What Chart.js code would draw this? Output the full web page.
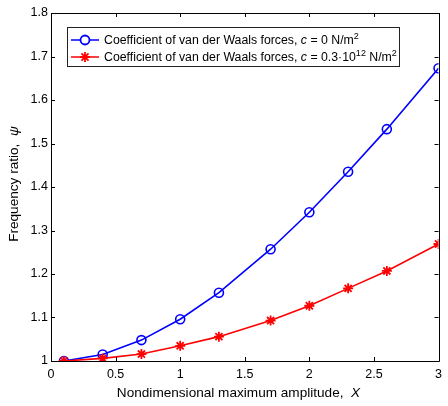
<!DOCTYPE html>
<html>
<head>
<meta charset="utf-8">
<script src="https://cdn.jsdelivr.net/npm/chart.js@4/dist/chart.umd.min.js"></script>
<style>
  html, body { margin: 0; padding: 0; background: #fff; }
  #wrap { width: 448px; height: 406px; position: relative; }
</style>
</head>
<body>
<div id="wrap"><canvas id="c" width="448" height="406"></canvas></div>
<script>
// Nondimensional maximum amplitude X
const amplitude = [0.1, 0.4, 0.7, 1.0, 1.3, 1.7, 2.0, 2.3, 2.6, 3.0];
// Frequency ratio for c = 0 N/m^2
const ratioNoVdW = [1.000, 1.015, 1.048, 1.096, 1.157, 1.257, 1.342, 1.435, 1.533, 1.673];
// Frequency ratio for c = 0.3e12 N/m^2
const ratioVdW = [1.000, 1.006, 1.016, 1.035, 1.056, 1.093, 1.127, 1.167, 1.207, 1.269];
const xTickValues = [0, 0.5, 1, 1.5, 2, 2.5, 3];
const yTickValues = [1, 1.1, 1.2, 1.3, 1.4, 1.5, 1.6, 1.7, 1.8];

const FONT = '"Liberation Sans", Arial, sans-serif';
const BLUE = '#0000ff';
const RED = '#ff0000';

function fmt(v) { return String(Number(v.toFixed(2))); }

// draws a run of text pieces: {t, italic, sup}
function drawRuns(ctx, runs, x, y, size) {
  let cx = x;
  runs.forEach(r => {
    const s = r.sup ? Math.round(size * 0.72) : size;
    ctx.font = (r.italic ? 'italic ' : '') + s + 'px ' + FONT;
    ctx.fillText(r.t, cx, r.sup ? y - size * 0.38 : y);
    cx += ctx.measureText(r.t).width;
  });
  return cx - x;
}
function runsWidth(ctx, runs, size) {
  let w = 0;
  runs.forEach(r => {
    const s = r.sup ? Math.round(size * 0.72) : size;
    ctx.font = (r.italic ? 'italic ' : '') + s + 'px ' + FONT;
    w += ctx.measureText(r.t).width;
  });
  return w;
}

const frame = {
  id: 'frame',
  afterDraw(chart) {
    const ctx = chart.ctx;
    const a = chart.chartArea;
    const xs = chart.scales.x, ys = chart.scales.y;
    ctx.save();
    ctx.strokeStyle = '#000';
    ctx.lineWidth = 1;
    ctx.beginPath();
    ctx.rect(Math.round(a.left) + 0.5, Math.round(a.top) + 0.5,
             Math.round(a.right - a.left), Math.round(a.bottom - a.top));
    ctx.stroke();
    const tl = 4;
    ctx.beginPath();
    xTickValues.forEach(v => {
      const px = Math.round(xs.getPixelForValue(v)) + 0.5;
      ctx.moveTo(px, a.bottom); ctx.lineTo(px, a.bottom - tl);
      ctx.moveTo(px, a.top); ctx.lineTo(px, a.top + tl);
    });
    yTickValues.forEach(v => {
      const py = Math.round(ys.getPixelForValue(v)) + 0.5;
      ctx.moveTo(a.left, py); ctx.lineTo(a.left + tl, py);
      ctx.moveTo(a.right, py); ctx.lineTo(a.right - tl, py);
    });
    ctx.stroke();

    // axis titles
    ctx.fillStyle = '#000';
    ctx.textBaseline = 'middle';
    const xt = [{t: 'Nondimensional maximum amplitude,  '}, {t: 'X', italic: true}];
    const xw = runsWidth(ctx, xt, 13.6);
    drawRuns(ctx, xt, 238.5 - xw / 2, 393, 13.6);

    const yt = [{t: 'Frequency ratio,  '}, {t: 'ψ', italic: true}];
    ctx.save();
    ctx.translate(14, 184);
    ctx.rotate(-Math.PI / 2);
    const yw = runsWidth(ctx, yt, 13.6);
    drawRuns(ctx, yt, -yw / 2, 0, 13.6);
    ctx.restore();

    // legend
    const bx = 67, by = 27, bw = 332, bh = 39;
    ctx.fillStyle = '#fff';
    ctx.fillRect(bx, by, bw, bh);
    ctx.strokeStyle = '#222';
    ctx.lineWidth = 1;
    ctx.strokeRect(bx + 0.5, by + 0.5, bw, bh);
    const rows = [
      {color: BLUE, style: 'circle', r: 4.5, y: 40,
       runs: [{t: 'Coefficient of van der Waals forces, '}, {t: 'c', italic: true},
              {t: ' = 0 N/m'}, {t: '2', sup: true}]},
      {color: RED, style: 'star', r: 5, y: 57,
       runs: [{t: 'Coefficient of van der Waals forces, '}, {t: 'c', italic: true},
              {t: ' = 0.3·10'}, {t: '12', sup: true}, {t: ' N/m'}, {t: '2', sup: true}]}
    ];
    rows.forEach(r => {
      ctx.strokeStyle = r.color;
      ctx.lineWidth = 1.5;
      ctx.beginPath();
      ctx.moveTo(71, r.y); ctx.lineTo(99, r.y);
      ctx.stroke();
      ctx.lineWidth = 1.8;
      Chart.helpers.drawPoint(ctx, {pointStyle: r.style, radius: r.r, borderWidth: 1.8}, 85, r.y);
      ctx.fillStyle = '#000';
      ctx.textBaseline = 'middle';
      drawRuns(ctx, r.runs, 104, r.y + 1, 12.3);
    });
    ctx.restore();
  }
};

const toPoints = ys => amplitude.map((x, i) => ({x, y: ys[i]}));

new Chart(document.getElementById('c'), {
  type: 'scatter',
  data: {
    datasets: [
      {
        label: 'c = 0 N/m2',
        data: toPoints(ratioNoVdW),
        showLine: true,
        borderColor: BLUE,
        backgroundColor: 'transparent',
        borderWidth: 1.6,
        pointStyle: 'circle',
        pointRadius: 4.5,
        pointBorderWidth: 1.6,
        pointBorderColor: BLUE,
        pointBackgroundColor: 'transparent',
        order: 1
      },
      {
        label: 'c = 0.3·10^12 N/m2',
        data: toPoints(ratioVdW),
        showLine: true,
        borderColor: RED,
        backgroundColor: 'transparent',
        borderWidth: 1.6,
        pointStyle: 'star',
        pointRadius: 5,
        pointBorderWidth: 1.8,
        pointBorderColor: RED,
        order: 0
      }
    ]
  },
  options: {
    responsive: false,
    animation: false,
    devicePixelRatio: 1,
    layout: { padding: { left: 0, top: 13, right: 4.5, bottom: 0 } },
    plugins: { legend: { display: false }, tooltip: { enabled: false } },
    scales: {
      x: {
        type: 'linear', min: 0, max: 3,
        afterBuildTicks: s => { s.ticks = xTickValues.map(v => ({value: v})); },
        afterFit: s => { s.height = 45; },
        grid: { display: false, drawTicks: false },
        border: { display: false },
        ticks: { color: '#000', padding: 6, maxRotation: 0, autoSkip: false,
                 font: { family: FONT, size: 12.5 }, callback: v => fmt(v) }
      },
      y: {
        type: 'linear', min: 1, max: 1.8,
        afterBuildTicks: s => { s.ticks = yTickValues.map(v => ({value: v})); },
        afterFit: s => { s.width = 51; },
        grid: { display: false, drawTicks: false },
        border: { display: false },
        ticks: { color: '#000', padding: 3, autoSkip: false,
                 font: { family: FONT, size: 12.5 }, callback: v => fmt(v) }
      }
    }
  },
  plugins: [frame]
});
</script>
</body>
</html>
